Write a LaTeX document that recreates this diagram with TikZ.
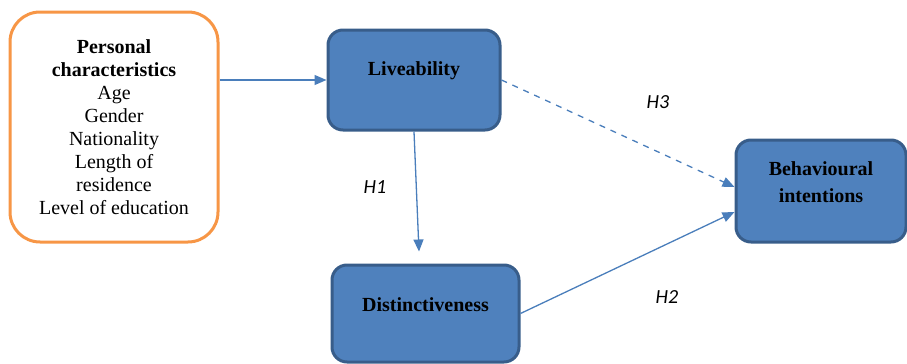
\documentclass[tikz,border=0pt]{standalone}
\usepackage{fontspec}
\setmainfont{Liberation Serif}
\newfontfamily\hfont{Carlito}
\usetikzlibrary{arrows.meta}
\definecolor{boxorange}{HTML}{F79646}
\definecolor{boxblue}{HTML}{4F81BD}
\definecolor{boxedge}{HTML}{385D8A}
\definecolor{linkblue}{HTML}{4A7EBB}
\tikzset{
  bluebox/.style={draw=boxedge, fill=boxblue, line width=1.5pt, rounded corners=7.5pt},
  boxtext/.style={align=center, font=\fontsize{10}{13.5}\selectfont\bfseries, inner sep=0pt},
  link/.style={draw=linkblue, line width=0.65pt, -{Triangle[length=6pt, width=5pt]}},
  hyp/.style={font=\hfont\itshape\fontsize{10}{12}\selectfont, inner sep=0pt}
}
\begin{document}
\begin{tikzpicture}[x=0.5pt, y=-0.5pt]
  \useasboundingbox (0, 0) rectangle (907, 364);
  \node[draw=boxorange, fill=white, line width=1.5pt, rounded corners=15pt,
        minimum width=104pt, minimum height=115pt, align=center,
        font=\fontsize{10}{11.5}\selectfont] (pc) at (114, 127)
    {\textbf{Personal}\\\textbf{characteristics}\\Age\\Gender\\Nationality\\Length of\\residence\\Level of education};
  \node[bluebox, minimum width=86pt, minimum height=50pt] (liv) at (414, 80) {};
  \node[boxtext] (livt) at ([yshift=4.5pt]liv.center) {Liveability};
  \node[bluebox, minimum width=93.5pt, minimum height=48.5pt] (dist) at (425.5, 313.5) {};
  \node[boxtext] (distt) at ([yshift=4.5pt]dist.center) {Distinctiveness};
  \node[bluebox, minimum width=85pt, minimum height=51pt] (bi) at (821, 191) {};
  \node[boxtext] (bit) at ([yshift=4.5pt]bi.center) {Behavioural\\intentions};
  \draw[link] (pc.east |- liv.west) -- (liv.west);
  \draw[link, shorten >=6pt] (liv.south) -- ([xshift=-3pt]dist.north);
  \draw[link, dashed] (liv.east) -- ([yshift=2pt]bi.west);
  \draw[link] (dist.east) -- ([yshift=-10.5pt]bi.west);
  \node[hyp] (h1) at (375, 187) {H1};
  \node[hyp] (h2) at (667, 297) {H2};
  \node[hyp] (h3) at (658, 102) {H3};
\end{tikzpicture}
\end{document}
